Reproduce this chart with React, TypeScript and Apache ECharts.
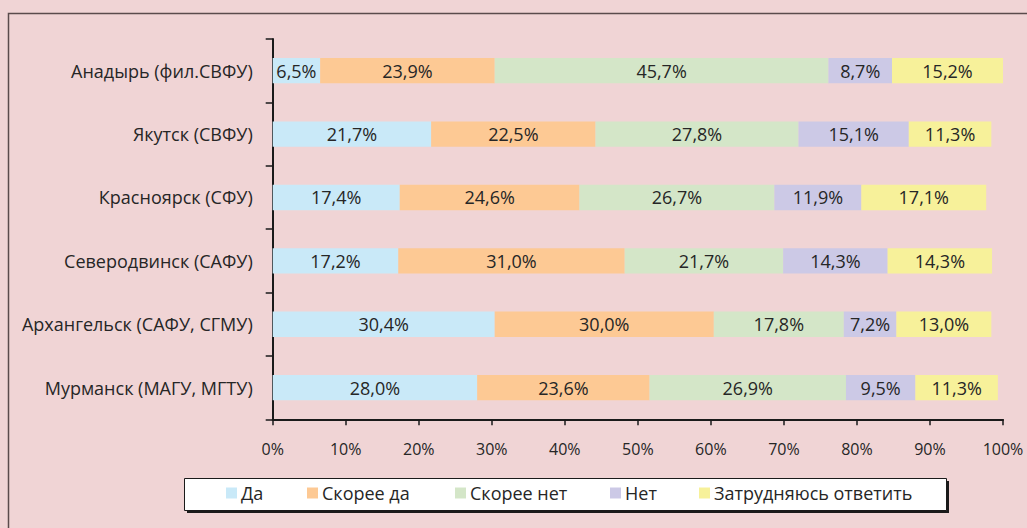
import React, { useEffect, useRef } from "react";
import * as echarts from "echarts";

const categories = [
  "Анадырь (фил.СВФУ)",
  "Якутск (СВФУ)",
  "Красноярск (СФУ)",
  "Северодвинск (САФУ)",
  "Архангельск (САФУ, СГМУ)",
  "Мурманск (МАГУ, МГТУ)",
];
const seriesNames = ["Да", "Скорее да", "Скорее нет", "Нет", "Затрудняюсь ответить"];
const da = [6.5, 21.7, 17.4, 17.2, 30.4, 28.0];
const skoreeDa = [23.9, 22.5, 24.6, 31.0, 30.0, 23.6];
const skoreeNet = [45.7, 27.8, 26.7, 21.7, 17.8, 26.9];
const net = [8.7, 15.1, 11.9, 14.3, 7.2, 9.5];
const zatrud = [15.2, 11.3, 17.1, 14.3, 13.0, 11.3];
const xTicks = [0, 10, 20, 30, 40, 50, 60, 70, 80, 90, 100];

const colors = ["#c9e9f8", "#fdc994", "#d4e6c8", "#ccc9e6", "#f7f19a"];
const FONT = "'Open Sans', 'Noto Sans', sans-serif";
const TEXT = "#262626";

export default function App() {
  const ref = useRef<HTMLDivElement>(null);
  useEffect(() => {
    if (!ref.current) return;
    const chart = echarts.init(ref.current, null, { renderer: "svg" });
    const values = [da, skoreeDa, skoreeNet, net, zatrud];
    const legendLefts = [226, 307, 455, 610, 699];
    chart.setOption({
      animation: false,
      backgroundColor: "#f0d4d5",
      textStyle: { fontFamily: FONT },
      grid: { left: 272.7, right: 24, top: 39, bottom: 108.7, containLabel: false },
      xAxis: {
        type: "value",
        min: 0,
        max: xTicks[xTicks.length - 1],
        interval: 10,
        axisLine: { show: true, lineStyle: { color: "#1a1a1a", width: 2 } },
        axisTick: { show: true, length: 6, lineStyle: { color: "#1a1a1a", width: 1.5 } },
        splitLine: { show: false },
        axisLabel: {
          margin: 22,
          color: TEXT,
          fontSize: 16,
          fontFamily: FONT,
          formatter: (v: number) => `${v}%`,
        },
      },
      yAxis: {
        type: "category",
        data: categories,
        inverse: true,
        axisLine: { show: true, lineStyle: { color: "#1a1a1a", width: 2 } },
        axisTick: { show: true, length: 7, lineStyle: { color: "#1a1a1a", width: 1.5 } },
        axisLabel: { margin: 20, color: TEXT, fontSize: 18, fontFamily: FONT },
      },
      legend: seriesNames.map((name, i) => ({
        data: [name],
        left: legendLefts[i],
        top: 484,
        padding: 0,
        itemWidth: 11,
        itemHeight: 11,
        icon: "rect",
        selectedMode: false,
        textStyle: { color: TEXT, fontSize: 18, fontFamily: FONT, padding: [0, 0, 0, -1] },
      })),
      graphic: [
        {
          type: "rect",
          shape: { x: 8.5, y: 13.5, width: 1100, height: 600 },
          style: { fill: "none", stroke: "#5a4b4c", lineWidth: 1.5 },
          silent: true,
          z: -10,
        },
        {
          type: "rect",
          shape: { x: 187, y: 481, width: 762, height: 32 },
          style: { fill: "#1a1a1a", stroke: "none" },
          silent: true,
          z: -5,
        },
        {
          type: "rect",
          shape: { x: 184.5, y: 478.5, width: 762, height: 32 },
          style: { fill: "#ffffff", stroke: "#1a1a1a", lineWidth: 1 },
          silent: true,
          z: -4,
        },
      ],
      series: seriesNames.map((name, i) => ({
        name,
        type: "bar",
        stack: "total",
        barWidth: "40%",
        data: values[i],
        itemStyle: { color: colors[i] },
        label: {
          show: true,
          position: "inside",
          color: TEXT,
          fontSize: 18,
          fontFamily: FONT,
          formatter: (p: any) => `${Number(p.value).toFixed(1).replace(".", ",")}%`,
        },
      })),
    });
    return () => chart.dispose();
  }, []);
  return (
    <div
      ref={ref}
      style={{ position: "fixed", left: 0, top: 0, width: 1027, height: 528 }}
    />
  );
}
